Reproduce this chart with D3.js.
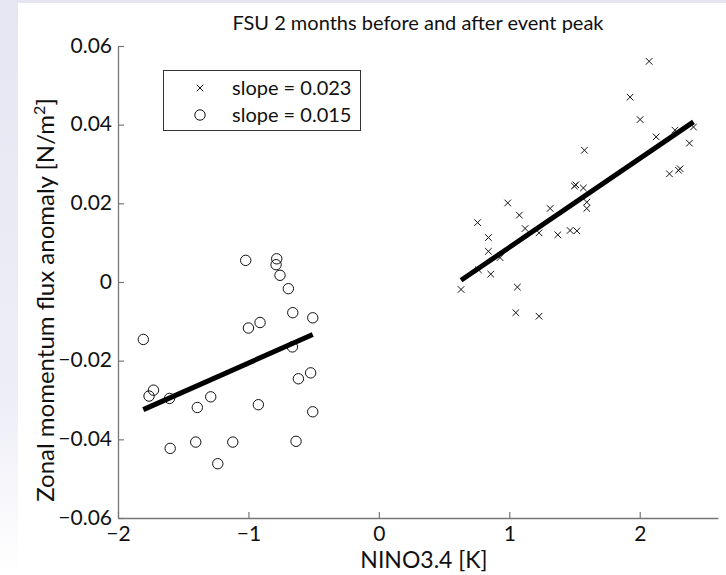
<!DOCTYPE html>
<html>
<head>
<meta charset="UTF-8">
<title>FSU 2 months before and after event peak</title>
<script src="https://d3js.org/d3.v7.min.js"></script>
<style>
  body { margin: 0; background: #fff; }
  svg text { font-family: Lato, "DejaVu Sans", sans-serif; fill: #111; }
</style>
</head>
<body>
<div id="chart"></div>
<script>
// El Nino events (crosses) and La Nina events (circles)
const ninoX = [2.072, 1.926, 2.003, 2.126, 2.27, 2.412, 2.381, 2.228, 2.297, 2.31,
               1.576, 1.499, 1.51, 1.568, 1.594, 1.594, 1.313, 0.988, 1.077, 1.121,
               1.228, 1.372, 1.466, 1.518, 0.757, 0.84, 0.84, 0.929, 0.763, 0.858,
               0.630, 1.062, 1.05, 1.228];
const ninoY = [0.0561, 0.0470, 0.0413, 0.0369, 0.0386, 0.0394, 0.0353, 0.0275, 0.0284, 0.0288,
               0.0335, 0.0244, 0.0247, 0.0239, 0.0203, 0.0187, 0.0187, 0.0201, 0.0170, 0.0136,
               0.0125, 0.0120, 0.0131, 0.0130, 0.0151, 0.0113, 0.0078, 0.0062, 0.0031, 0.0020,
               -0.0019, -0.0013, -0.0078, -0.0087];
const ninaX = [-1.806, -1.762, -1.728, -1.605, -1.6, -1.392, -1.404, -1.289, -1.235, -1.12,
               -1.021, -1.0, -0.911, -0.924, -0.783, -0.788, -0.758, -0.694, -0.66, -0.663,
               -0.617, -0.635, -0.507, -0.523, -0.507];
const ninaY = [-0.0146, -0.0290, -0.0275, -0.0296, -0.0423, -0.0319, -0.0407, -0.0292, -0.0462, -0.0407,
               0.0055, -0.0117, -0.0103, -0.0312, 0.0059, 0.0044, 0.0017, -0.0017, -0.0078, -0.0165,
               -0.0246, -0.0405, -0.0091, -0.0231, -0.0330];
// fitted lines: [slope, intercept]
const ninoFit = [0.0226, -0.0138];
const ninaFit = [0.0147, -0.0059];
const legendLabels = ["slope = 0.023", "slope = 0.015"];
const xTicks = [-2, -1, 0, 1, 2];
const yTicks = [-0.06, -0.04, -0.02, 0, 0.02, 0.04, 0.06];

const W = 726, H = 575;
const svg = d3.select("#chart").append("svg").attr("width", W).attr("height", H);

// slide-like background
const defs = svg.append("defs");
const grad = defs.append("linearGradient").attr("id", "side").attr("x1", 0).attr("y1", 0).attr("x2", 0).attr("y2", 1);
grad.append("stop").attr("offset", "0%").attr("stop-color", "#e6e6f3");
grad.append("stop").attr("offset", "70%").attr("stop-color", "#eeeef7");
grad.append("stop").attr("offset", "100%").attr("stop-color", "#ffffff");
svg.append("rect").attr("width", W).attr("height", 3).attr("fill", "#e6e6f3");
svg.append("rect").attr("width", 18).attr("height", H).attr("fill", "url(#side)");

const x = d3.scaleLinear().domain([-2, 2.6]).range([118, 718]);
const y = d3.scaleLinear().domain([-0.06, 0.06]).range([518, 46]);

const fmtY = d => d === 0 ? "0" : d3.format(".2f")(d).replace("-", "\u2212");
const fmtX = d => String(d).replace("-", "\u2212");

const xAxis = svg.append("g").attr("transform", `translate(0,${y(-0.06)})`)
  .call(d3.axisBottom(x).tickValues(xTicks).tickFormat(fmtX).tickSizeInner(-6).tickSizeOuter(0).tickPadding(8));
const yAxis = svg.append("g").attr("transform", `translate(${x(-2)},0)`)
  .call(d3.axisLeft(y).tickValues(yTicks).tickFormat(fmtY).tickSizeInner(-6).tickSizeOuter(0).tickPadding(6));
[xAxis, yAxis].forEach(g => {
  g.select(".domain").attr("stroke", "#777").attr("stroke-width", 1.3);
  g.selectAll(".tick line").attr("stroke", "#777").attr("stroke-width", 1.2);
  g.selectAll(".tick text").attr("font-size", 21).attr("fill", "#111");
});
yAxis.selectAll(".tick text").attr("dy", "0.3em");

// circles
svg.append("g").selectAll("circle").data(ninaX).join("circle")
  .attr("cx", (d, i) => x(d)).attr("cy", (d, i) => y(ninaY[i]))
  .attr("r", 5.2).attr("fill", "none").attr("stroke", "#111").attr("stroke-width", 1);

// crosses
const cross = (cx, cy, s) => `M${cx - s},${cy - s}L${cx + s},${cy + s}M${cx - s},${cy + s}L${cx + s},${cy - s}`;
svg.append("g").selectAll("path").data(ninoX).join("path")
  .attr("d", (d, i) => cross(x(d), y(ninoY[i]), 3.3))
  .attr("stroke", "#111").attr("stroke-width", 1).attr("fill", "none");

// fit lines over each cluster's range
function fitLine(xs, fit) {
  const ext = d3.extent(xs);
  svg.append("line")
    .attr("x1", x(ext[0])).attr("y1", y(fit[0] * ext[0] + fit[1]))
    .attr("x2", x(ext[1])).attr("y2", y(fit[0] * ext[1] + fit[1]))
    .attr("stroke", "#000").attr("stroke-width", 5);
}
fitLine(ninoX, ninoFit);
fitLine(ninaX, ninaFit);

// legend
const lg = svg.append("g");
lg.append("rect").attr("x", 163.5).attr("y", 70.5).attr("width", 197).attr("height", 60)
  .attr("fill", "#fff").attr("stroke", "#333").attr("stroke-width", 1);
lg.append("path").attr("d", cross(200, 88, 3.3)).attr("stroke", "#111").attr("fill", "none");
lg.append("circle").attr("cx", 200).attr("cy", 115).attr("r", 5.2).attr("fill", "none").attr("stroke", "#111");
legendLabels.forEach((t, i) => {
  lg.append("text").attr("x", 232).attr("y", 88 + i * 27).attr("dy", "0.36em")
    .attr("font-size", 20).text(t);
});

// title and axis labels
svg.append("text").attr("x", 418).attr("y", 30).attr("text-anchor", "middle")
  .attr("font-size", 20).text("FSU 2 months before and after event peak");
svg.append("text").attr("x", 424).attr("y", 568).attr("text-anchor", "middle")
  .attr("font-size", 23).text("NINO3.4 [K]");
const yl = svg.append("text").attr("transform", "translate(54,300) rotate(-90)")
  .attr("text-anchor", "middle").attr("font-size", 24);
yl.append("tspan").text("Zonal momentum flux anomaly [N/m");
yl.append("tspan").attr("font-size", 16).attr("dy", -9).text("2");
yl.append("tspan").attr("dy", 9).text("]");
</script>
</body>
</html>
